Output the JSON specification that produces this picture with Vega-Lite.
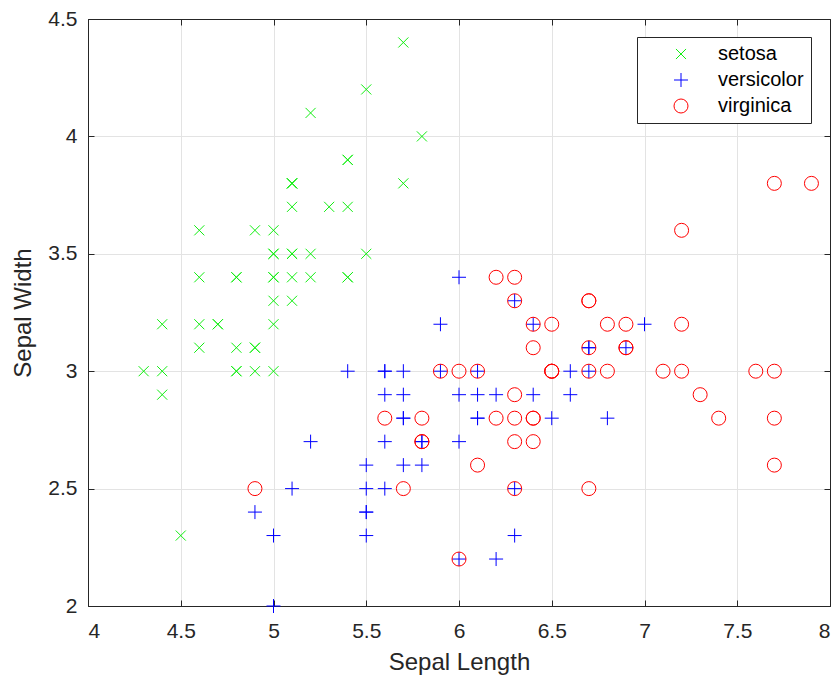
{
  "$schema": "https://vega.github.io/schema/vega-lite/v6.json",
  "width": 742,
  "height": 587,
  "autosize": {"type": "none"},
  "padding": {"left": 88, "top": 19, "right": 8, "bottom": 73},
  "background": "white",
  "config": {
    "font": "Liberation Sans",
    "view": {"stroke": "#262626", "strokeWidth": 1},
    "axis": {
      "domainColor": "#262626",
      "tickColor": "#262626",
      "labelColor": "#262626",
      "titleColor": "#262626",
      "labelFont": "Liberation Sans",
      "titleFont": "Liberation Sans",
      "labelFontSize": 21,
      "titleFontSize": 24,
      "titleFontWeight": "normal",
      "gridColor": "#e3e3e3",
      "tickSize": -6,
      "format": ".1~f"
    }
  },
  "data": {"values": [
    {"species":"setosa","sl":5.1,"sw":3.5},{"species":"setosa","sl":4.9,"sw":3.0},{"species":"setosa","sl":4.7,"sw":3.2},{"species":"setosa","sl":4.6,"sw":3.1},{"species":"setosa","sl":5.0,"sw":3.6},
    {"species":"setosa","sl":5.4,"sw":3.9},{"species":"setosa","sl":4.6,"sw":3.4},{"species":"setosa","sl":5.0,"sw":3.4},{"species":"setosa","sl":4.4,"sw":2.9},{"species":"setosa","sl":4.9,"sw":3.1},
    {"species":"setosa","sl":5.4,"sw":3.7},{"species":"setosa","sl":4.8,"sw":3.4},{"species":"setosa","sl":4.8,"sw":3.0},{"species":"setosa","sl":4.3,"sw":3.0},{"species":"setosa","sl":5.8,"sw":4.0},
    {"species":"setosa","sl":5.7,"sw":4.4},{"species":"setosa","sl":5.4,"sw":3.9},{"species":"setosa","sl":5.1,"sw":3.5},{"species":"setosa","sl":5.7,"sw":3.8},{"species":"setosa","sl":5.1,"sw":3.8},
    {"species":"setosa","sl":5.4,"sw":3.4},{"species":"setosa","sl":5.1,"sw":3.7},{"species":"setosa","sl":4.6,"sw":3.6},{"species":"setosa","sl":5.1,"sw":3.3},{"species":"setosa","sl":4.8,"sw":3.4},
    {"species":"setosa","sl":5.0,"sw":3.0},{"species":"setosa","sl":5.0,"sw":3.4},{"species":"setosa","sl":5.2,"sw":3.5},{"species":"setosa","sl":5.2,"sw":3.4},{"species":"setosa","sl":4.7,"sw":3.2},
    {"species":"setosa","sl":4.8,"sw":3.1},{"species":"setosa","sl":5.4,"sw":3.4},{"species":"setosa","sl":5.2,"sw":4.1},{"species":"setosa","sl":5.5,"sw":4.2},{"species":"setosa","sl":4.9,"sw":3.1},
    {"species":"setosa","sl":5.0,"sw":3.2},{"species":"setosa","sl":5.5,"sw":3.5},{"species":"setosa","sl":4.9,"sw":3.6},{"species":"setosa","sl":4.4,"sw":3.0},{"species":"setosa","sl":5.1,"sw":3.4},
    {"species":"setosa","sl":5.0,"sw":3.5},{"species":"setosa","sl":4.5,"sw":2.3},{"species":"setosa","sl":4.4,"sw":3.2},{"species":"setosa","sl":5.0,"sw":3.5},{"species":"setosa","sl":5.1,"sw":3.8},
    {"species":"setosa","sl":4.8,"sw":3.0},{"species":"setosa","sl":5.1,"sw":3.8},{"species":"setosa","sl":4.6,"sw":3.2},{"species":"setosa","sl":5.3,"sw":3.7},{"species":"setosa","sl":5.0,"sw":3.3},
    {"species":"versicolor","sl":7.0,"sw":3.2},{"species":"versicolor","sl":6.4,"sw":3.2},{"species":"versicolor","sl":6.9,"sw":3.1},{"species":"versicolor","sl":5.5,"sw":2.3},{"species":"versicolor","sl":6.5,"sw":2.8},
    {"species":"versicolor","sl":5.7,"sw":2.8},{"species":"versicolor","sl":6.3,"sw":3.3},{"species":"versicolor","sl":4.9,"sw":2.4},{"species":"versicolor","sl":6.6,"sw":2.9},{"species":"versicolor","sl":5.2,"sw":2.7},
    {"species":"versicolor","sl":5.0,"sw":2.0},{"species":"versicolor","sl":5.9,"sw":3.0},{"species":"versicolor","sl":6.0,"sw":2.2},{"species":"versicolor","sl":6.1,"sw":2.9},{"species":"versicolor","sl":5.6,"sw":2.9},
    {"species":"versicolor","sl":6.7,"sw":3.1},{"species":"versicolor","sl":5.6,"sw":3.0},{"species":"versicolor","sl":5.8,"sw":2.7},{"species":"versicolor","sl":6.2,"sw":2.2},{"species":"versicolor","sl":5.6,"sw":2.5},
    {"species":"versicolor","sl":5.9,"sw":3.2},{"species":"versicolor","sl":6.1,"sw":2.8},{"species":"versicolor","sl":6.3,"sw":2.5},{"species":"versicolor","sl":6.1,"sw":2.8},{"species":"versicolor","sl":6.4,"sw":2.9},
    {"species":"versicolor","sl":6.6,"sw":3.0},{"species":"versicolor","sl":6.8,"sw":2.8},{"species":"versicolor","sl":6.7,"sw":3.0},{"species":"versicolor","sl":6.0,"sw":2.9},{"species":"versicolor","sl":5.7,"sw":2.6},
    {"species":"versicolor","sl":5.5,"sw":2.4},{"species":"versicolor","sl":5.5,"sw":2.4},{"species":"versicolor","sl":5.8,"sw":2.7},{"species":"versicolor","sl":6.0,"sw":2.7},{"species":"versicolor","sl":5.4,"sw":3.0},
    {"species":"versicolor","sl":6.0,"sw":3.4},{"species":"versicolor","sl":6.7,"sw":3.1},{"species":"versicolor","sl":6.3,"sw":2.3},{"species":"versicolor","sl":5.6,"sw":3.0},{"species":"versicolor","sl":5.5,"sw":2.5},
    {"species":"versicolor","sl":5.5,"sw":2.6},{"species":"versicolor","sl":6.1,"sw":3.0},{"species":"versicolor","sl":5.8,"sw":2.6},{"species":"versicolor","sl":5.0,"sw":2.3},{"species":"versicolor","sl":5.6,"sw":2.7},
    {"species":"versicolor","sl":5.7,"sw":3.0},{"species":"versicolor","sl":5.7,"sw":2.9},{"species":"versicolor","sl":6.2,"sw":2.9},{"species":"versicolor","sl":5.1,"sw":2.5},{"species":"versicolor","sl":5.7,"sw":2.8},
    {"species":"virginica","sl":6.3,"sw":3.3},{"species":"virginica","sl":5.8,"sw":2.7},{"species":"virginica","sl":7.1,"sw":3.0},{"species":"virginica","sl":6.3,"sw":2.9},{"species":"virginica","sl":6.5,"sw":3.0},
    {"species":"virginica","sl":7.6,"sw":3.0},{"species":"virginica","sl":4.9,"sw":2.5},{"species":"virginica","sl":7.3,"sw":2.9},{"species":"virginica","sl":6.7,"sw":2.5},{"species":"virginica","sl":7.2,"sw":3.6},
    {"species":"virginica","sl":6.5,"sw":3.2},{"species":"virginica","sl":6.4,"sw":2.7},{"species":"virginica","sl":6.8,"sw":3.0},{"species":"virginica","sl":5.7,"sw":2.5},{"species":"virginica","sl":5.8,"sw":2.8},
    {"species":"virginica","sl":6.4,"sw":3.2},{"species":"virginica","sl":6.5,"sw":3.0},{"species":"virginica","sl":7.7,"sw":3.8},{"species":"virginica","sl":7.7,"sw":2.6},{"species":"virginica","sl":6.0,"sw":2.2},
    {"species":"virginica","sl":6.9,"sw":3.2},{"species":"virginica","sl":5.6,"sw":2.8},{"species":"virginica","sl":7.7,"sw":2.8},{"species":"virginica","sl":6.3,"sw":2.7},{"species":"virginica","sl":6.7,"sw":3.3},
    {"species":"virginica","sl":7.2,"sw":3.2},{"species":"virginica","sl":6.2,"sw":2.8},{"species":"virginica","sl":6.1,"sw":3.0},{"species":"virginica","sl":6.4,"sw":2.8},{"species":"virginica","sl":7.2,"sw":3.0},
    {"species":"virginica","sl":7.4,"sw":2.8},{"species":"virginica","sl":7.9,"sw":3.8},{"species":"virginica","sl":6.4,"sw":2.8},{"species":"virginica","sl":6.3,"sw":2.8},{"species":"virginica","sl":6.1,"sw":2.6},
    {"species":"virginica","sl":7.7,"sw":3.0},{"species":"virginica","sl":6.3,"sw":3.4},{"species":"virginica","sl":6.4,"sw":3.1},{"species":"virginica","sl":6.0,"sw":3.0},{"species":"virginica","sl":6.9,"sw":3.1},
    {"species":"virginica","sl":6.7,"sw":3.1},{"species":"virginica","sl":6.9,"sw":3.1},{"species":"virginica","sl":5.8,"sw":2.7},{"species":"virginica","sl":6.8,"sw":3.2},{"species":"virginica","sl":6.7,"sw":3.3},
    {"species":"virginica","sl":6.7,"sw":3.0},{"species":"virginica","sl":6.3,"sw":2.5},{"species":"virginica","sl":6.5,"sw":3.0},{"species":"virginica","sl":6.2,"sw":3.4},{"species":"virginica","sl":5.9,"sw":3.0}
  ]},
  "resolve": {"axis": {"x": "independent", "y": "independent"}},
  "layer": [
    {
      "mark": {"type": "point", "filled": false, "strokeWidth": 1, "size": 196, "opacity": 1, "fill": "transparent", "fillOpacity": 0},
      "encoding": {
        "x": {
          "field": "sl", "type": "quantitative", "title": "Sepal Length",
          "scale": {"domain": [4, 8], "nice": false, "zero": false},
          "axis": {"values": [4, 4.5, 5, 5.5, 6, 6.5, 7, 7.5, 8], "labelPadding": 20, "titlePadding": 9}
        },
        "y": {
          "field": "sw", "type": "quantitative", "title": "Sepal Width",
          "scale": {"domain": [2, 4.5], "nice": false, "zero": false},
          "axis": {"values": [2, 2.5, 3, 3.5, 4, 4.5], "labelPadding": 17, "titlePadding": 12}
        },
        "color": {
          "field": "species", "type": "nominal",
          "scale": {"domain": ["setosa", "versicolor", "virginica"], "range": ["#11ee11", "#0000ff", "#ff0000"]},
          "legend": {
            "title": null, "orient": "none", "legendX": 549, "legendY": 18,
            "strokeColor": "#262626", "fillColor": "white", "padding": 7,
            "labelFontSize": 20, "labelColor": "#000000", "labelFont": "Liberation Sans",
            "symbolOffset": 27, "labelOffset": 27, "rowPadding": 6,
            "symbolStrokeWidth": 1, "symbolSize": 196, "symbolFillColor": "transparent", "cornerRadius": 0
          }
        },
        "shape": {
          "field": "species", "type": "nominal",
          "scale": {"domain": ["setosa", "versicolor", "virginica"], "range": ["M-0.72,-0.72L0.72,0.72M-0.72,0.72L0.72,-0.72", "M-1,0L1,0M0,-1L0,1", "circle"]}
        }
      }
    },
    {
      "mark": {"type": "point", "opacity": 0},
      "encoding": {
        "x": {
          "field": "sl", "type": "quantitative",
          "axis": {"orient": "top", "values": [4, 4.5, 5, 5.5, 6, 6.5, 7, 7.5, 8], "labels": false, "title": null, "grid": false}
        },
        "y": {
          "field": "sw", "type": "quantitative",
          "axis": {"orient": "right", "values": [2, 2.5, 3, 3.5, 4, 4.5], "labels": false, "title": null, "grid": false}
        }
      }
    }
  ]
}
